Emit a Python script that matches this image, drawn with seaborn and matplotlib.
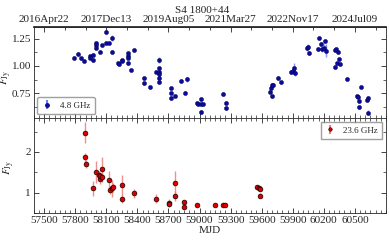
import numpy as np
import pandas as pd
import seaborn as sns
import matplotlib
matplotlib.use("Agg")
import matplotlib.pyplot as plt
from matplotlib.ticker import MultipleLocator, FixedLocator, FormatStrFormatter

# S4 1800+44 light curves, 4.8 GHz (top) and 23.6 GHz (bottom)
mjd_c = [57786, 57824, 57856, 57882, 57939, 57945, 57971, 57974, 57997, 58000,
         58003, 58036, 58061, 58093, 58093, 58125, 58157, 58157, 58214, 58221,
         58247, 58250, 58311, 58311, 58311, 58314, 58343, 58368, 58464, 58464,
         58522, 58584, 58612, 58612, 58612, 58612, 58612, 58612, 58728, 58728,
         58728, 58760, 58824, 58856, 58875, 58971, 58981, 59010, 59019, 59036,
         59019, 59224, 59253, 59253, 59683, 59692, 59702, 59702, 59714, 59762,
         59786, 59885, 59901, 59916, 59920, 60038, 60051, 60055, 60141, 60151,
         60173, 60183, 60199, 60209, 60224, 60305, 60314, 60305, 60330, 60343,
         60337, 60359, 60426, 60519, 60529, 60541, 60541, 60558, 60622, 60632,
         60632]
flux_c = [1.077, 1.108, 1.071, 1.046, 1.095, 1.077, 1.102, 1.056, 1.210, 1.194,
          1.169, 1.132, 1.194, 1.312, 1.210, 1.210, 1.256, 1.127, 1.025, 1.016,
          1.056, 1.046, 1.118, 1.095, 1.077, 1.025, 0.963, 1.148, 0.886, 0.840,
          0.803, 0.947, 1.056, 0.979, 0.947, 0.923, 0.892, 0.849, 0.794, 0.753,
          0.706, 0.725, 0.864, 0.753, 0.877, 0.655, 0.648, 0.651, 0.694, 0.651,
          0.577, 0.741, 0.660, 0.614, 0.762, 0.799, 0.824, 0.722, 0.824, 0.886,
          0.849, 0.947, 0.956, 0.979, 0.932, 1.164, 1.179, 1.118, 1.157, 1.256,
          1.201, 1.157, 1.169, 1.231, 1.139, 1.148, 1.157, 0.988, 1.025, 1.062,
          1.132, 1.019, 0.880, 0.725, 0.713, 0.676, 0.620, 0.806, 0.685, 0.706,
          0.571]
err_c = [0.012, 0.012, 0.012, 0.012, 0.015, 0.012, 0.015, 0.015, 0.015, 0.015,
         0.015, 0.012, 0.012, 0.015, 0.015, 0.012, 0.030, 0.020, 0.012, 0.012,
         0.012, 0.012, 0.015, 0.015, 0.015, 0.012, 0.012, 0.012, 0.015, 0.015,
         0.012, 0.015, 0.025, 0.015, 0.015, 0.020, 0.015, 0.015, 0.015, 0.015,
         0.015, 0.012, 0.015, 0.012, 0.025, 0.012, 0.012, 0.012, 0.015, 0.012,
         0.015, 0.015, 0.015, 0.015, 0.015, 0.015, 0.020, 0.015, 0.015, 0.015,
         0.012, 0.020, 0.030, 0.045, 0.020, 0.025, 0.020, 0.020, 0.015, 0.015,
         0.020, 0.030, 0.030, 0.020, 0.060, 0.015, 0.015, 0.020, 0.015, 0.015,
         0.015, 0.012, 0.012, 0.012, 0.012, 0.015, 0.012, 0.012, 0.015, 0.015,
         0.020]

mjd_k = [57897, 57897, 57907, 57969, 57997, 58026, 58036, 58041, 58055, 58060,
         58128, 58132, 58157, 58160, 58247, 58247, 58368, 58584, 58702, 58702,
         58760, 58760, 58849, 58849, 58971, 59154, 59224, 59250, 59555, 59570,
         59587, 59587]
flux_k = [2.47, 1.865, 1.70, 1.107, 1.51, 1.425, 1.34, 1.40, 1.575, 1.38,
          1.30, 1.065, 1.107, 1.13, 1.19, 0.857, 0.982, 0.857, 0.757, 0.715,
          1.24, 0.925, 0.775, 0.65, 0.708, 0.708, 0.708, 0.708, 1.14, 1.107,
          1.08, 0.93]
err_k = [0.26, 0.12, 0.10, 0.19, 0.27, 0.10, 0.12, 0.10, 0.30, 0.10,
         0.23, 0.10, 0.20, 0.10, 0.25, 0.10, 0.12, 0.12, 0.08, 0.06,
         0.30, 0.12, 0.05, 0.03, 0.04, 0.04, 0.04, 0.04, 0.06, 0.05,
         0.04, 0.06]

mjd_ticks = [57500, 57800, 58100, 58400, 58700, 59000, 59300, 59600, 59900, 60200, 60500]
date_ticks = [57500, 58100, 58700, 59300, 59900, 60500]
date_labels = ["2016Apr22", "2017Dec13", "2019Aug05", "2021Mar27", "2022Nov17", "2024Jul09"]

df_c = pd.DataFrame({"mjd": mjd_c, "flux": flux_c, "err": err_c})
df_k = pd.DataFrame({"mjd": mjd_k, "flux": flux_k, "err": err_k})

sns.set_theme(style="ticks")
plt.rcParams["font.family"] = ["Liberation Serif", "DejaVu Serif"]
plt.rcParams["mathtext.fontset"] = "stix"

fig = plt.figure(figsize=(3.89, 2.40), dpi=100)
ax1 = fig.add_axes([0.087, 0.508, 0.905, 0.380])
ax2 = fig.add_axes([0.087, 0.112, 0.905, 0.396], sharex=ax1)

ax1.errorbar(df_c["mjd"], df_c["flux"], yerr=df_c["err"], fmt="none",
             ecolor="#6f7cf2", elinewidth=1.0, alpha=0.8, zorder=2)
sns.scatterplot(data=df_c, x="mjd", y="flux", ax=ax1, color="#0b0b9a",
                s=9, edgecolor="#00005a", linewidth=0.3, zorder=3, legend=False)
ax1.errorbar([], [], yerr=[], fmt="o", color="#0b0b9a", ecolor="#6f7cf2",
             markersize=2.5, label="4.8 GHz")

ax2.errorbar(df_k["mjd"], df_k["flux"], yerr=df_k["err"], fmt="none",
             ecolor="#f27a7a", elinewidth=1.0, alpha=0.85, zorder=2)
sns.scatterplot(data=df_k, x="mjd", y="flux", ax=ax2, color="#d90000",
                s=12, edgecolor="black", linewidth=0.45, zorder=3, legend=False)
ax2.errorbar([], [], yerr=[], fmt="o", color="#d90000", mec="black", mew=0.4,
             ecolor="#f27a7a", markersize=2.5, label="23.6 GHz")

ax1.set_xlim(57400, 60800)
ax1.set_ylim(0.52, 1.36)
ax2.set_ylim(0.5, 2.83)

ax1.yaxis.set_major_locator(MultipleLocator(0.25))
ax1.yaxis.set_minor_locator(MultipleLocator(0.125))
ax2.yaxis.set_major_locator(MultipleLocator(1))
ax2.yaxis.set_minor_locator(MultipleLocator(0.5))
ax2.xaxis.set_major_locator(FixedLocator(mjd_ticks))
ax2.xaxis.set_minor_locator(MultipleLocator(50))

for ax in (ax1, ax2):
    ax.tick_params(which="both", direction="in", top=True, right=True,
                   labelsize=8, pad=2)
    ax.tick_params(which="major", length=3.5, width=0.6)
    ax.tick_params(which="minor", length=2, width=0.5)
    for sp in ax.spines.values():
        sp.set_linewidth(0.6)
ax1.tick_params(which="both", top=False, labelbottom=False)
ax1.set_ylabel(r"$F_{\rm Jy}$", fontsize=8)
ax2.set_ylabel(r"$F_{\rm Jy}$", fontsize=8)
ax1.yaxis.set_label_coords(-0.055, 0.45)
ax2.yaxis.set_label_coords(-0.048, 0.48)
ax1.set_xlabel("")
ax2.set_xlabel("MJD", fontsize=8, labelpad=1)
ax1.yaxis.set_major_formatter(FormatStrFormatter("%.2f"))

sec = ax1.secondary_xaxis("top")
sec.set_xticks(date_ticks)
sec.set_xticklabels(date_labels)
sec.xaxis.set_minor_locator(FixedLocator(np.arange(57300, 60900, 200)))
sec.tick_params(which="both", direction="in", labelsize=8, pad=2, width=0.6)
sec.tick_params(which="major", length=3.5)
sec.tick_params(which="minor", length=2)

ax1.legend(loc="lower left", fontsize=6.5, frameon=True, fancybox=True,
           edgecolor="#888888", handlelength=1.2, borderpad=0.5,
           borderaxespad=0.4)
ax2.legend(loc="upper right", fontsize=6.5, frameon=True, fancybox=False,
           edgecolor="#888888", handlelength=1.2, borderpad=0.5,
           borderaxespad=0.4)

fig.text(0.52, 0.975, "S4 1800+44", ha="center", va="top", fontsize=8)

fig.savefig("out.png", dpi=100)
